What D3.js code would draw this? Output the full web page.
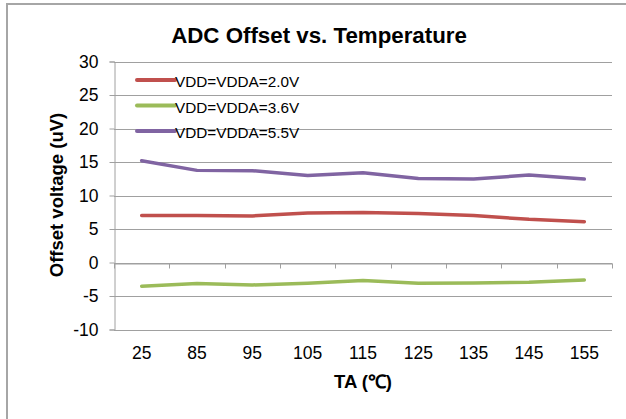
<!DOCTYPE html>
<html><head><meta charset="utf-8">
<script src="https://cdn.jsdelivr.net/npm/d3@7"></script>
<style>body{margin:0;background:#fff;}svg{display:block;font-family:Arial,"Liberation Sans",sans-serif;}</style>
</head><body>
<svg id="c" width="626" height="419"></svg>
<script>
const categories = ["25","85","95","105","115","125","135","145","155"];
const seriesNames = ["VDD=VDDA=2.0V","VDD=VDDA=3.6V","VDD=VDDA=5.5V"];
const vdd20 = [7.0,7.0,6.95,7.4,7.45,7.3,7.0,6.45,6.1];
const vdd36 = [-3.55,-3.15,-3.35,-3.1,-2.7,-3.1,-3.05,-2.95,-2.6];
const vdd55 = [15.2,13.75,13.7,13.0,13.4,12.55,12.45,13.05,12.45];
const yTicks = [-10,-5,0,5,10,15,20,25,30];
const colors = ["#C0504D","#9BBB59","#8064A2"];
const series = [vdd20, vdd36, vdd55];
const FONT = "Arial, 'Liberation Sans', sans-serif";

const svg = d3.select("#c");
// outer chart border
svg.append("rect").attr("x",7).attr("y",4).attr("width",640).attr("height",440)
  .attr("fill","none").attr("stroke","#a6a6a6").attr("stroke-width",2);

const L=114, R=612, T=61.5, B=329.5;
const x = d3.scaleBand().domain(categories).range([L,R]).paddingInner(0).paddingOuter(0);
const y = d3.scaleLinear().domain([-10,30]).range([B,T]);

// gridlines
svg.append("g").selectAll("line").data(yTicks).join("line")
  .attr("x1",L).attr("x2",R).attr("y1",d=>Math.round(y(d))+0.5).attr("y2",d=>Math.round(y(d))+0.5)
  .attr("stroke","#a0a0a0").attr("stroke-width",1);

// y axis
const yAxis = d3.axisLeft(y).tickValues(yTicks).tickSize(5).tickPadding(11).tickFormat(d=>String(d));
const gy = svg.append("g").attr("transform",`translate(${L+0.5},0)`).call(yAxis);
gy.attr("font-family",FONT);
gy.select(".domain").attr("stroke","#a0a0a0");
gy.selectAll(".tick line").attr("stroke","#a0a0a0");
gy.selectAll(".tick text").attr("font-size","17.5px").attr("fill","#000");

// x axis at y=0 with ticks down, labels at bottom
const y0 = Math.round(y(0))+0.5;
const xAxis = d3.axisBottom(x).tickSize(0).tickFormat(()=>"");
const gx = svg.append("g").attr("transform",`translate(0,${y0})`).call(xAxis);
gx.select(".domain").attr("stroke","#a0a0a0");
const bounds = d3.range(categories.length+1).map(i=>L + i*x.bandwidth());
svg.append("g").selectAll("line").data(bounds).join("line")
  .attr("x1",d=>Math.round(d)+0.5).attr("x2",d=>Math.round(d)+0.5).attr("y1",y0).attr("y2",y0+5)
  .attr("stroke","#a0a0a0");
svg.append("g").selectAll("text").data(categories).join("text")
  .attr("x",d=>x(d)+x.bandwidth()/2).attr("y",359).attr("text-anchor","middle")
  .attr("font-size","17.5px").attr("fill","#000").text(d=>d);

// lines
const line = d3.line().x((d,i)=>x(categories[i])+x.bandwidth()/2).y(d=>y(d));
series.forEach((s,k)=>{
  svg.append("path").datum(s).attr("d",line).attr("fill","none")
    .attr("stroke",colors[k]).attr("stroke-width",3.5).attr("stroke-linejoin","round").attr("stroke-linecap","round");
});

// legend
const legY = [80,105.5,131];
seriesNames.forEach((n,k)=>{
  svg.append("line").attr("x1",137).attr("x2",175).attr("y1",legY[k]).attr("y2",legY[k])
    .attr("stroke",colors[k]).attr("stroke-width",4).attr("stroke-linecap","round");
  svg.append("text").attr("x",175).attr("y",legY[k]+7).attr("font-size","15.3px").attr("fill","#000").text(n);
});

// titles
svg.append("text").attr("x",319).attr("y",43).attr("text-anchor","middle")
  .attr("font-size","22.3px").attr("font-weight","bold").attr("fill","#000").text("ADC Offset vs. Temperature");
svg.append("text").attr("x",363).attr("y",388).attr("text-anchor","middle")
  .attr("font-size","18.5px").attr("font-weight","bold").attr("fill","#000").text("TA (℃)");
svg.append("text").attr("transform","translate(63,195) rotate(-90)").attr("text-anchor","middle")
  .attr("font-size","18.5px").attr("font-weight","bold").attr("fill","#000").text("Offset voltage (uV)");
</script>
</body></html>
